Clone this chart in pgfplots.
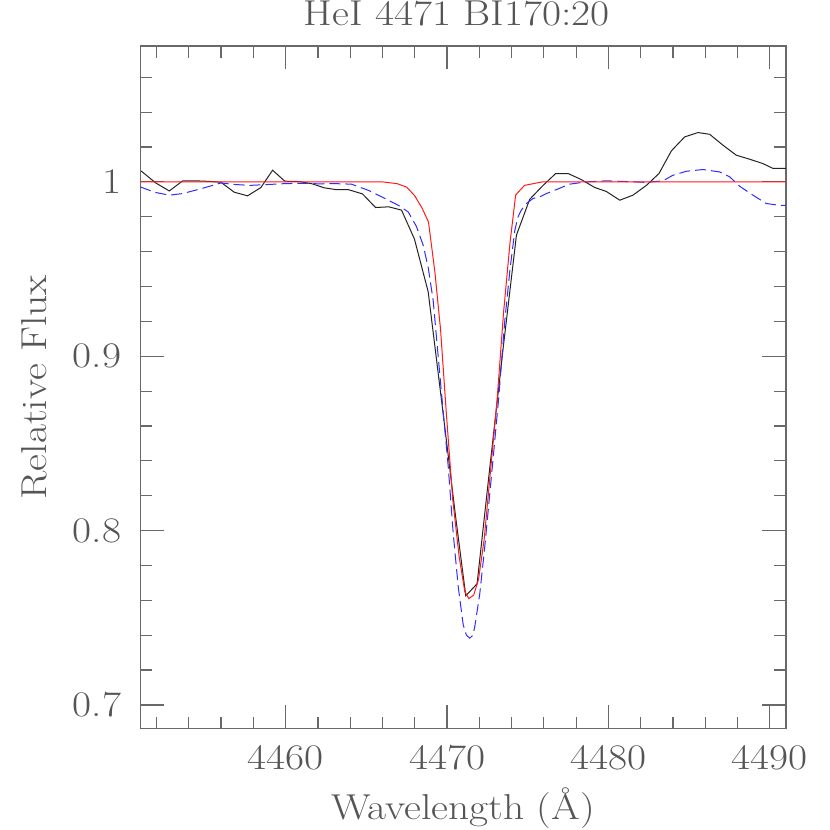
\documentclass[border=0pt]{standalone}
\usepackage{pgfplots}
\usepackage{graphicx}
\pgfplotsset{compat=1.18}
\definecolor{txt}{RGB}{85,85,85}
\definecolor{axc}{RGB}{105,105,105}
\definecolor{obs}{RGB}{35,35,35}
\definecolor{mred}{RGB}{255,25,25}
\definecolor{mblue}{RGB}{45,45,255}
\newcommand\fs{\fontsize{18}{21}\selectfont}
\newcommand\hs[1]{\scalebox{1.15}[1]{#1}}

\pgfplotstableread{
x y
4451.04 1.0063
4451.95 0.9994
4452.79 0.9948
4453.62 1.0006
4454.44 1.0006
4455.25 1.0003
4455.99 0.9998
4456.81 0.9941
4457.64 0.9920
4458.47 0.9968
4459.19 1.0067
4459.95 1.0004
4460.82 1.0002
4461.60 0.9990
4462.39 0.9966
4463.10 0.9956
4463.87 0.9956
4464.76 0.9931
4465.57 0.9853
4466.39 0.9857
4467.18 0.9838
4467.98 0.9672
4468.83 0.9370
4469.72 0.8700
4470.53 0.8080
4471.16 0.7626
4471.86 0.7695
4472.67 0.8380
4473.48 0.9050
4474.30 0.9695
4475.12 0.9900
4475.95 0.9980
4476.73 1.0048
4477.50 1.0048
4478.30 1.0014
4479.15 0.9968
4479.87 0.9945
4480.70 0.9895
4481.52 0.9924
4482.35 0.9980
4483.13 1.0048
4483.90 1.0178
4484.72 1.0258
4485.55 1.0283
4486.27 1.0273
4487.10 1.0210
4487.92 1.0153
4488.75 1.0130
4489.57 1.0105
4490.20 1.0077
4491.00 1.0077
}\obsdata

\pgfplotstableread{
x y
4451.00 1.0000
4466.00 1.0000
4466.90 0.9990
4467.50 0.9970
4468.00 0.9920
4468.45 0.9850
4468.85 0.9770
4469.25 0.9480
4469.60 0.9150
4469.95 0.8680
4470.35 0.8180
4470.75 0.7850
4471.10 0.7650
4471.35 0.7610
4471.65 0.7630
4471.95 0.7720
4472.30 0.7950
4472.70 0.8350
4473.10 0.8750
4473.50 0.9250
4473.90 0.9650
4474.25 0.9925
4474.80 0.9980
4475.90 1.0000
4491.00 1.0000
}\reddata

\pgfplotstableread{
x y
4451.00 0.9971
4451.90 0.9940
4452.79 0.9924
4453.62 0.9933
4454.80 0.9962
4456.00 0.9994
4456.86 0.9985
4457.79 0.9980
4458.92 0.9985
4459.95 0.9990
4460.99 0.9992
4462.00 0.9989
4463.05 0.9990
4464.08 0.9987
4465.11 0.9952
4466.15 0.9905
4466.97 0.9866
4467.59 0.9828
4468.10 0.9745
4468.52 0.9637
4468.83 0.9510
4469.14 0.9320
4469.45 0.9000
4469.80 0.8640
4470.07 0.8370
4470.38 0.7985
4470.69 0.7680
4471.00 0.7460
4471.20 0.7400
4471.41 0.7383
4471.60 0.7400
4471.72 0.7450
4472.03 0.7640
4472.34 0.7910
4472.65 0.8214
4472.90 0.8460
4473.20 0.8760
4473.58 0.9207
4473.89 0.9490
4474.20 0.9723
4474.40 0.9800
4474.60 0.9838
4474.92 0.9876
4475.33 0.9905
4475.74 0.9914
4476.16 0.9933
4476.67 0.9952
4477.60 0.9987
4478.63 1.0000
4479.87 1.0006
4481.11 1.0002
4482.35 0.9997
4483.38 1.0006
4483.99 1.0038
4484.83 1.0061
4485.86 1.0071
4486.89 1.0057
4487.51 1.0029
4488.13 0.9975
4488.95 0.9924
4489.78 0.9876
4490.56 0.9866
4491.00 0.9866
}\bluedata

\begin{document}
\begin{tikzpicture}
\begin{axis}[
  at={(0pt,0pt)}, anchor=south west,
  scale only axis, width=322.8pt, height=341.2pt,
  xmin=4451, xmax=4491, ymin=0.6866, ymax=1.078,
  xtick={4460,4470,4480,4490},
  xticklabels={\hs{4460},\hs{4470},\hs{4480},\hs{4490}},
  minor xtick={4452,4454,4456,4458,4462,4464,4466,4468,4472,4474,4476,4478,4482,4484,4486,4488},
  ytick={0.7,0.8,0.9,1},
  yticklabels={\hs{0.7},\hs{0.8},\hs{0.9},\hs{1}},
  minor ytick={0.72,0.74,0.76,0.78,0.82,0.84,0.86,0.88,0.92,0.94,0.96,0.98,1.02,1.04,1.06},
  tick align=inside, xtick pos=both, ytick pos=both,
  major tick length=11.75pt, minor tick length=5.85pt,
  axis line style={axc, line width=0.7pt},
  every tick/.style={axc, line width=0.6pt},
  tick label style={font=\fs, text=txt},
  xticklabel style={yshift=-5pt},
  yticklabel style={xshift=-6pt},
  xlabel={\hs{Wavelength (\AA)}},
  xlabel style={at={(axis description cs:0.5,0)}, anchor=base, yshift=-45.5pt, font=\fs, text=txt},
  ylabel={\hs{Relative Flux}},
  ylabel style={at={(axis description cs:-0.1451,0.5)}, anchor=base, font=\fs, text=txt},
  title={\hs{HeI 4471 BI170:20}},
  every axis title/.style={at={(axis description cs:0.49,1)}, anchor=base, yshift=10pt, inner sep=0pt, font=\fs, text=txt},
]
\addplot[obs, line width=0.5pt] table[x=x,y=y] {\obsdata};
\addplot[mblue, line width=0.5pt, dash pattern=on 5.5pt off 2.5pt] table[x=x,y=y] {\bluedata};
\addplot[mred, line width=0.5pt] table[x=x,y=y] {\reddata};
\end{axis}
\pgfresetboundingbox
\path[use as bounding box] (-70.2pt,-50.85pt) rectangle (344.8pt,364.15pt);
\end{tikzpicture}
\end{document}
